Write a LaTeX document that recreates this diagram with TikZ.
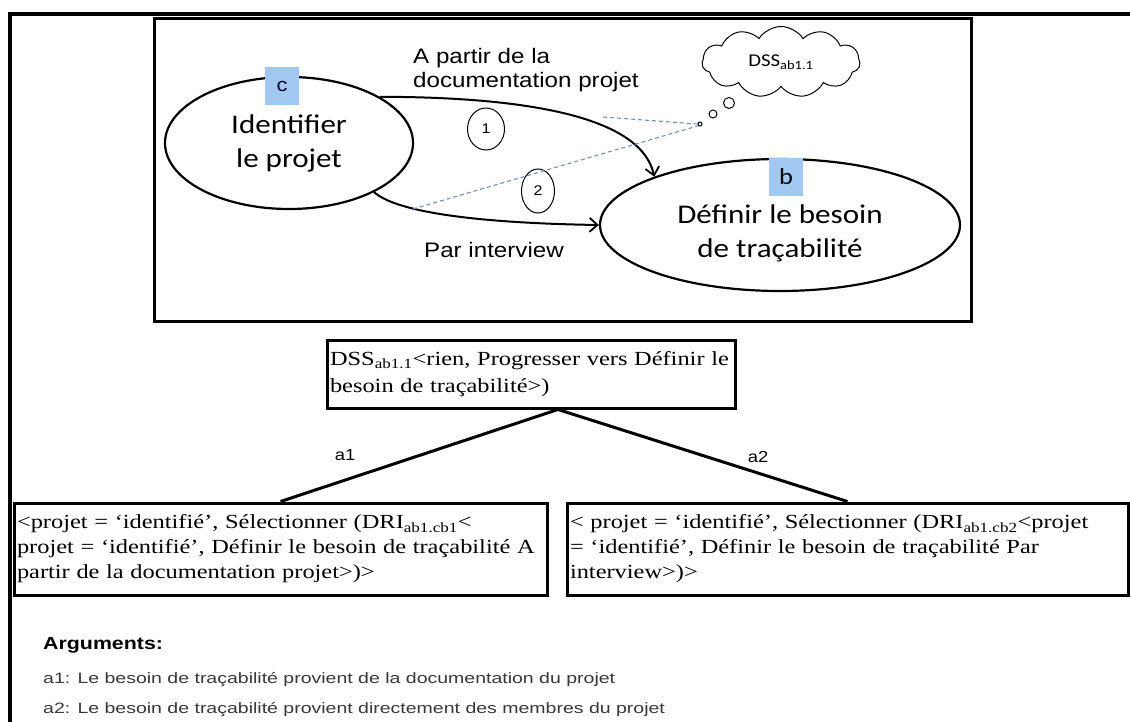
\documentclass[tikz,border=0pt]{standalone}
\usepackage{fontspec}
\setmainfont{Liberation Serif}
\newfontfamily\calf{Carlito}[FakeStretch=1.15]
\newfontfamily\ariat{Liberation Sans}[FakeStretch=1.15]
\newfontfamily\ariam{Liberation Sans}[FakeStretch=1.22]
\newfontfamily\ariab{Liberation Sans}[FakeStretch=1.3]
\newfontfamily\timf{Liberation Serif}[FakeStretch=1.22]
\usetikzlibrary{shapes.geometric,shapes.symbols,arrows.meta}
\definecolor{lblblue}{RGB}{160,200,240}
\definecolor{dashblue}{RGB}{115,145,185}
\tikzset{
 frameline/.style={line width=4pt},
 proc/.style={ellipse, draw, line width=2.2pt, inner sep=0pt, align=center, font=\calf\fontsize{27}{34}\selectfont},
 tag/.style={fill=lblblue, inner sep=0pt, minimum width=34pt, minimum height=38pt},
 flow/.style={line width=2pt, -{Straight Barb[length=8pt,width=14pt,line width=1.8pt]}},
 numc/.style={ellipse, draw, line width=1pt, inner sep=0pt, font=\ariat\fontsize{14}{16}\selectfont},
 hint/.style={dashblue, line width=1.1pt, dash pattern=on 4pt off 3pt},
 edgelbl/.style={font=\ariat\fontsize{21}{24.5}\selectfont, inner sep=0pt},
 bubble/.style={circle, draw, line width=1pt, inner sep=0pt},
 tbox/.style={draw, line width=3pt, inner xsep=3pt, inner ysep=0pt, align=left, font=\timf\fontsize{20}{25}\selectfont},
 tree/.style={line width=3pt},
 treelbl/.style={font=\ariat\fontsize{16}{18}\selectfont, inner sep=0pt},
 argl/.style={font=\ariab\fontsize{15}{18}\selectfont, text=black!78, inner sep=0pt, anchor=base west},
}
\begin{document}
\begin{tikzpicture}[x=1pt,y=-1pt]
\useasboundingbox (0,0) rectangle (1130,722);
\fill[white] (0,0) rectangle (1130,722);
% outer frame
\draw[frameline] (8,14.5) -- (1130,14.5);
\draw[frameline] (10,14.5) -- (10,722);
% inner box
\draw[line width=3pt] (154,18.5) rectangle (971,321);
% processes
\node[proc, minimum width=248pt, minimum height=132pt] (L) at (289,143) {Identifier\\le projet};
\node[proc, minimum width=360pt, minimum height=132pt] (R) at (780,225) {\rule{0pt}{36pt}Définir le besoin\\de traçabilité};
\node[tag, text=black!85!blue, font=\ariat\fontsize{19}{20}\selectfont] (tc) at (282,86.5) {c};
\node[tag, font=\calf\fontsize{23}{24}\selectfont] (tb) at (786,177) {b};
% flows
\draw[flow] (L.27) .. controls (500,97) and (640,110) .. (R.159);
\draw[flow] (L.-30) .. controls (395,211) and (470,223) .. (R.west);
\node[edgelbl, align=left, anchor=west] (lab1) at (413,70) {A partir de la\\documentation projet};
\node[edgelbl] (lab2) at (494,250) {Par interview};
\node[numc, minimum width=37pt, minimum height=42pt] (n1) at (486,129) {1};
\node[numc, minimum width=33pt, minimum height=44pt] (n2) at (538,191) {2};
% cloud
\node[cloud, draw, line width=1pt, cloud puffs=11, cloud puff arc=115, aspect=2.2, minimum width=158pt, minimum height=71pt, inner sep=0pt, font=\calf\fontsize{18}{20}\selectfont] (cl) at (781,62) {DSS\textsubscript{ab1.1}};
\node[bubble, minimum size=11pt] (b1) at (729,103) {};
\node[bubble, minimum size=8pt] (b2) at (713,114) {};
\node[bubble, minimum size=4pt] (b3) at (700,124) {};
\coordinate (d1s) at (603,117);
\coordinate (d2s) at (413,209);
\draw[hint] (d1s) -- (b3.west);
\draw[hint] (d2s) -- (b3.south west);
% decision tree
\node[tbox, text width=402pt, minimum height=68pt, font=\timf\fontsize{20}{27}\selectfont] (dss) at (531,374) {\mbox{DSS\textsubscript{ab1.1}<rien, Progresser vers Définir le}\\\mbox{besoin de traçabilité>)}};
\node[tbox, text width=527pt, minimum height=92pt] (lb) at (280.5,549) {\mbox{<projet = ‘identifié’, Sélectionner (DRI\textsubscript{ab1.cb1}<}\\\mbox{projet = ‘identifié’, Définir le besoin de traçabilité A}\\\mbox{partir de la documentation projet>)>}};
\node[tbox, text width=555pt, minimum height=92pt] (rb) at (847.5,549) {\mbox{< projet = ‘identifié’, Sélectionner (DRI\textsubscript{ab1.cb2}<projet}\\\mbox{= ‘identifié’, Définir le besoin de traçabilité Par}\\\mbox{interview>)>}};
\draw[tree] ([xshift=27pt]dss.south) -- (lb.north);
\draw[tree] ([xshift=27pt]dss.south) -- (rb.north);
\node[treelbl] (ta1) at (345,455) {a1};
\node[treelbl] (ta2) at (758,457) {a2};
% arguments
\node[font=\ariam\bfseries\fontsize{17.5}{20}\selectfont, anchor=base west, inner sep=0pt] (arg) at (43,649) {Arguments:};
\node[argl] (arg1) at (43,683) {a1: Le besoin de traçabilité provient de la documentation du projet};
\node[argl] (arg2) at (43,713) {a2: Le besoin de traçabilité provient directement des membres du projet};
\end{tikzpicture}
\end{document}
